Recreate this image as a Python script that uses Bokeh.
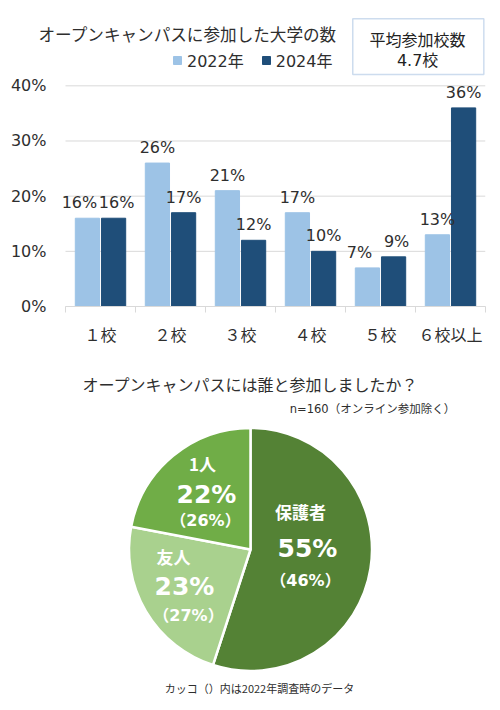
import numpy as np
from bokeh.plotting import figure
from bokeh.layouts import column
from bokeh.models import (Range1d, FixedTicker, Label, BoxAnnotation, ColumnDataSource,
                          PrintfTickFormatter)
from bokeh.core.properties import value
from bokeh.embed import file_html
from bokeh.resources import INLINE

# ---------------- data ----------------
categories = ["１校", "２校", "３校", "４校", "５校", "６校以上"]
share_2022 = [16, 26, 21, 17, 7, 13]
share_2024 = [16, 17, 12, 10, 9, 36]
series_names = ["2022年", "2024年"]
y_ticks = [0, 10, 20, 30, 40]
avg_schools = 4.7

pie_labels = ["保護者", "友人", "1人"]
pie_2024 = [55, 23, 22]
pie_2022 = [46, 27, 26]
sample_n = 160

# ---------------- styles ----------------
JP = "Noto Sans CJK JP"
NUM = "DejaVu Sans, 'Noto Sans CJK JP'"
TXT = "#2E2E2E"
C22, C24 = "#9DC3E6", "#1F4E79"
PIE_COLORS = ["#548235", "#A9D18E", "#70AD47"]
GRID = "#D9D9D9"

W = 492
BAR_H = 368
PIE_H = 334
LEFT, RIGHT = 30, 7          # frame borders (px)
PLOT_LEFT = 65               # where the bar area starts (px)
PX_PER_CAT = 70
PX_PER_PCT = 5.517
FRAME_H = 306

# ---------------- bar chart ----------------
n = len(categories)
x0 = -(PLOT_LEFT - LEFT) / PX_PER_CAT
p = figure(width=W, height=BAR_H, output_backend="svg", toolbar_location=None,
           x_range=Range1d(x0, n), y_range=Range1d(0, FRAME_H / PX_PER_PCT),
           min_border_left=LEFT, min_border_right=RIGHT, min_border_top=0,
           min_border_bottom=BAR_H - FRAME_H)
p.outline_line_color = None

# horizontal gridlines over the bar area only
p.segment(x0=0, x1=n, y0=y_ticks, y1=y_ticks, line_color=GRID, line_width=1, level="underlay")

centers = np.arange(n) + 0.5
off = 0.187
bw = 0.346

close = [abs(a - b) < 3 for a, b in zip(share_2022, share_2024)]
src = ColumnDataSource(dict(
    x22=centers - off, x24=centers + off,
    v22=share_2022, v24=share_2024,
    t22=[f"{v}%" for v in share_2022], t24=[f"{v}%" for v in share_2024],
    dx22=[-8 if c else 0 for c in close], dx24=[3 if c else 0 for c in close],
))

p.vbar(x="x22", top="v22", width=bw, source=src, color=C22, legend_label=series_names[0])
p.vbar(x="x24", top="v24", width=bw, source=src, color=C24, legend_label=series_names[1])

for xs, ts, ys, dx in (("x22", "t22", "v22", "dx22"), ("x24", "t24", "v24", "dx24")):
    p.text(x=xs, y=ys, text=ts, source=src, x_offset=dx, y_offset=-6,
           text_align="center", text_baseline="bottom", text_font=value(NUM),
           text_font_size="16px", text_color=TXT)

# axes
p.yaxis.ticker = FixedTicker(ticks=y_ticks)
p.yaxis.formatter = PrintfTickFormatter(format="%d%%")
p.yaxis.axis_line_color = None
p.yaxis.major_tick_line_color = None
p.yaxis.minor_tick_line_color = None
p.yaxis.major_tick_out = 0
p.yaxis.major_label_standoff = LEFT - (PLOT_LEFT - 19)
p.yaxis.major_label_text_font = NUM
p.yaxis.major_label_text_font_size = "16px"
p.yaxis.major_label_text_color = TXT

p.xaxis.bounds = (0, n)
p.xaxis.ticker = FixedTicker(ticks=list(centers), minor_ticks=list(range(n + 1)))
p.xaxis.major_label_overrides = {float(c): lab for c, lab in zip(centers, categories)}
p.xaxis.axis_line_color = GRID
p.xaxis.major_tick_line_color = None
p.xaxis.major_tick_out = 0
p.xaxis.minor_tick_line_color = GRID
p.xaxis.minor_tick_out = 6
p.xaxis.minor_tick_in = 0
p.xaxis.major_label_standoff = 9
p.xaxis.major_label_text_font = JP
p.xaxis.major_label_text_font_size = "16px"
p.xaxis.major_label_text_color = TXT

p.grid.grid_line_color = None

# legend
lg = p.legend[0]
lg.orientation = "horizontal"
lg.location = (172 - LEFT, 234)
lg.padding = 0
lg.margin = 0
lg.spacing = 17
lg.glyph_width = 10
lg.glyph_height = 10
lg.label_standoff = 5
lg.label_text_font = NUM
lg.label_text_font_size = "16px"
lg.label_text_color = TXT
lg.background_fill_alpha = 0
lg.border_line_color = None

# title
p.add_layout(Label(x=38, y=33, x_units="canvas", y_units="canvas",
                   text="オープンキャンパスに参加した大学の数",
                   text_align="left", text_baseline="middle", text_font=JP,
                   text_font_size="16.6px", text_color=TXT))
# average box
p.add_layout(BoxAnnotation(left=4.104, right=5.976, top=52.15, bottom=42.05,
                           fill_alpha=0, line_color="#5B8BC8", line_width=1.5))
p.add_layout(Label(x=5.03, y=48.5, text="平均参加校数", text_align="center",
                   text_baseline="middle", text_font=JP, text_font_size="16px",
                   text_color="#222222"))
p.add_layout(Label(x=5.03, y=44.6, text=f"{avg_schools}校", text_align="center",
                   text_baseline="middle", text_font=NUM, text_font_size="16px",
                   text_color="#222222"))

# ---------------- pie chart ----------------
CX = 250 - LEFT          # pie centre, px from frame left
CY = 549 - BAR_H         # pie centre, px from figure top
frame_w = W - LEFT - RIGHT
q = figure(width=W, height=PIE_H, output_backend="svg", toolbar_location=None,
           x_range=Range1d(-CX, frame_w - CX), y_range=Range1d(-(PIE_H - CY), CY),
           x_axis_location=None, y_axis_location=None,
           min_border_left=LEFT, min_border_right=RIGHT, min_border_top=0, min_border_bottom=0)
q.outline_line_color = None
q.grid.grid_line_color = None

frac = np.array(pie_2024) / sum(pie_2024)
cum = np.concatenate([[0], np.cumsum(frac)])
start = np.pi / 2 - cum[:-1] * 2 * np.pi
end = np.pi / 2 - cum[1:] * 2 * np.pi
psrc = ColumnDataSource(dict(start=start, end=end, color=PIE_COLORS, label=pie_labels))
q.wedge(x=0, y=0, radius=121.5, start_angle="start", end_angle="end", direction="clock",
        fill_color="color", line_color="white", line_width=2.5, source=psrc)

# slice label anchors (px relative to pie centre)
name_xy = [(50, 38), (-77, -7), (-48, 86)]
pct_xy = [(57, 1), (-66, -37), (-44, 55)]
old_xy = [(55, -31), (-62, -66), (-45, 29)]
for i, name in enumerate(pie_labels):
    q.add_layout(Label(x=name_xy[i][0], y=name_xy[i][1], text=name, text_align="center",
                       text_baseline="middle", text_font=JP, text_font_size="17px",
                       text_font_style="bold", text_color="white"))
    q.add_layout(Label(x=pct_xy[i][0], y=pct_xy[i][1], text=f"{pie_2024[i]}%",
                       text_align="center", text_baseline="middle", text_font=NUM,
                       text_font_size="25px", text_font_style="bold", text_color="white"))
    q.add_layout(Label(x=old_xy[i][0], y=old_xy[i][1], text=f"（{pie_2022[i]}%）",
                       text_align="center", text_baseline="middle", text_font=NUM,
                       text_font_size="16px", text_font_style="bold", text_color="white"))

q.add_layout(Label(x=0, y=166, text="オープンキャンパスには誰と参加しましたか？",
                   text_align="center", text_baseline="middle", text_font=JP,
                   text_font_size="16px", text_color=TXT))
q.add_layout(Label(x=122, y=141, text=f"n={sample_n}（オンライン参加除く）",
                   text_align="center", text_baseline="middle", text_font=NUM,
                   text_font_size="11.5px", text_color=TXT))
q.add_layout(Label(x=9, y=-138, text="カッコ（）内は2022年調査時のデータ",
                   text_align="center", text_baseline="middle", text_font=JP,
                   text_font_size="11px", text_color=TXT))

layout = column(p, q, spacing=0)
open("out.html", "w").write(file_html(layout, INLINE))
